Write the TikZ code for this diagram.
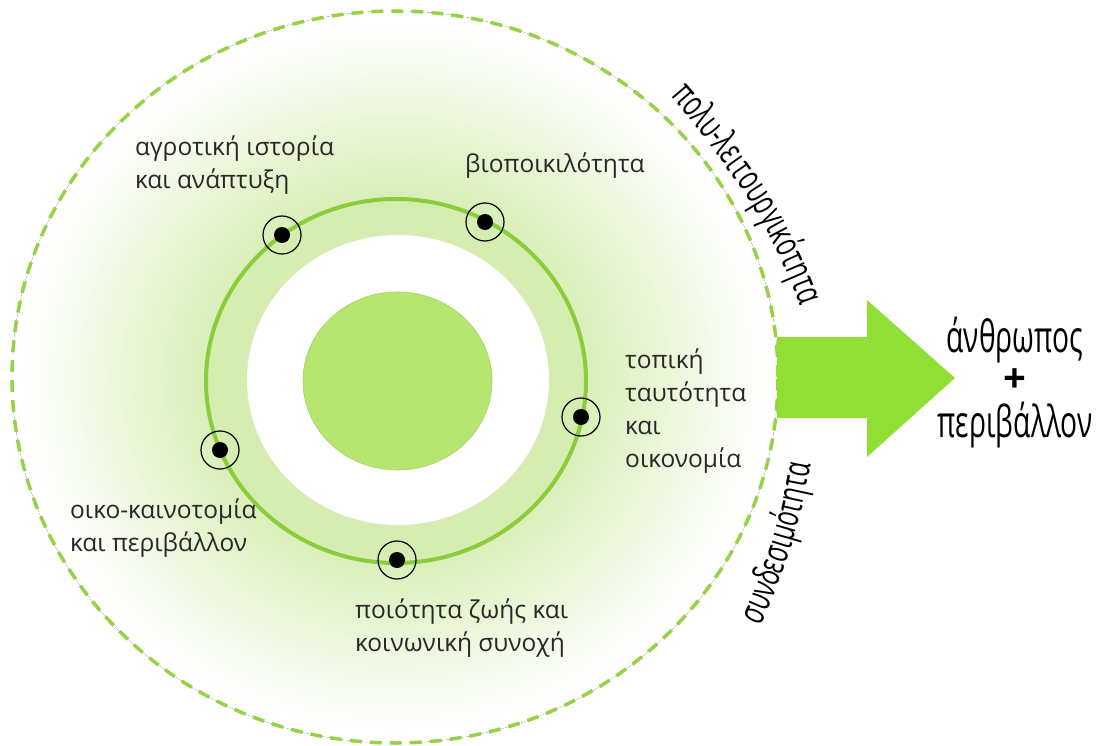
\documentclass[tikz,border=0pt]{standalone}
\usepackage{fontspec}
\setmainfont{Open Sans}
\newfontfamily\condfont[FakeStretch=0.64]{Open Sans}
\usetikzlibrary{decorations.text}
\definecolor{ringgreen}{RGB}{140,204,60}
\definecolor{dashgreen}{RGB}{150,210,70}
\definecolor{glowc}{RGB}{216,238,182}
\definecolor{glowmid}{RGB}{232,245,212}
\definecolor{glowout}{RGB}{246,251,238}
\definecolor{bandc}{RGB}{214,237,178}
\definecolor{discc}{RGB}{183,230,112}
\definecolor{discedge}{RGB}{160,210,95}
\definecolor{arrowc}{RGB}{145,222,52}
\definecolor{txt}{RGB}{40,40,40}
\pgfdeclareradialshading{glow}{\pgfpoint{0bp}{0bp}}{color(0bp)=(glowc); color(12bp)=(glowc); color(17bp)=(glowmid); color(21bp)=(glowout); color(24.5bp)=(white); color(50bp)=(white)}
\tikzset{
  lbl/.style={font=\fontsize{24.5}{33}\selectfont, text=txt, inner sep=0pt, align=left, anchor=north west},
  bigtxt/.style={font=\condfont\fontsize{44}{44}\selectfont, text=black, inner sep=0pt, anchor=base},
  marker/.style={circle, draw=black, line width=1.2pt, minimum size=38pt, inner sep=0pt,
    path picture={\fill[black] (path picture bounding box.center) circle (8pt);}},
  ringline/.style={ringgreen, line width=4pt},
  dashline/.style={dashgreen, line width=3.5pt, dash pattern=on 12pt off 8pt},
  curvetext/.style={decorate, decoration={text along path, text color=black,
    text={|\condfont\fontsize{37}{37}\selectfont|#1}}}
}
\begin{document}
\begin{tikzpicture}[x=1pt,y=-1pt]
\useasboundingbox (0,0) rectangle (1102,746);
% outer glow
\fill[shading=glow] (395,377) ellipse [x radius=383pt, y radius=366pt];
% dashed boundary
\draw[dashline] (395,377) ellipse [x radius=383pt, y radius=366pt];
% band, white ring, disc
\fill[bandc] (396,381) ellipse [x radius=190pt, y radius=182pt];
\fill[white] (398,380) ellipse [x radius=151pt, y radius=145pt];
\filldraw[fill=discc, draw=discedge, line width=0.6pt] (397.5,381) ellipse [x radius=94.5pt, y radius=89pt];
\draw[ringline] (396,381) ellipse [x radius=190pt, y radius=182pt];
% markers
\node[marker] (m1) at (282,235) {};
\node[marker] (m2) at (485,222) {};
\node[marker] (m3) at (581,417) {};
\node[marker] (m4) at (220,450) {};
\node[marker] (m5) at (397,560) {};
% labels
\node[lbl] (l1) at (135,136) {αγροτική ιστορία\\και ανάπτυξη};
\node[lbl] (l2) at (465,153) {βιοποικιλότητα};
\node[lbl] (l3) at (625,349) {τοπική\\ταυτότητα\\και\\οικονομία};
\node[lbl] (l4) at (70,499) {οικο-καινοτομία\\και περιβάλλον};
\node[lbl] (l5) at (355,599) {ποιότητα ζωής και\\κοινωνική συνοχή};
% arrow
\fill[arrowc] (777,337) -- (867,337) -- (867,300) -- (955,378) -- (867,457) -- (867,418) -- (777,418) -- cycle;
% result text
\node[bigtxt] (t1) at (1015,352) {άνθρωπος};
\node[font=\fontsize{40}{40}\selectfont\bfseries, text=black, inner sep=0pt, anchor=base] (plus) at (1015,392) {+};
\node[bigtxt] (t2) at (1015,437) {περιβάλλον};
% curved labels
\path[curvetext={πολυ-λειτουργικότητα}] (670,96) .. controls (738,175) and (788,250) .. (812,345);
\path[curvetext={συνδεσιμότητα}] (760,626) .. controls (778,590) and (806,520) .. (815,430);
\end{tikzpicture}
\end{document}
